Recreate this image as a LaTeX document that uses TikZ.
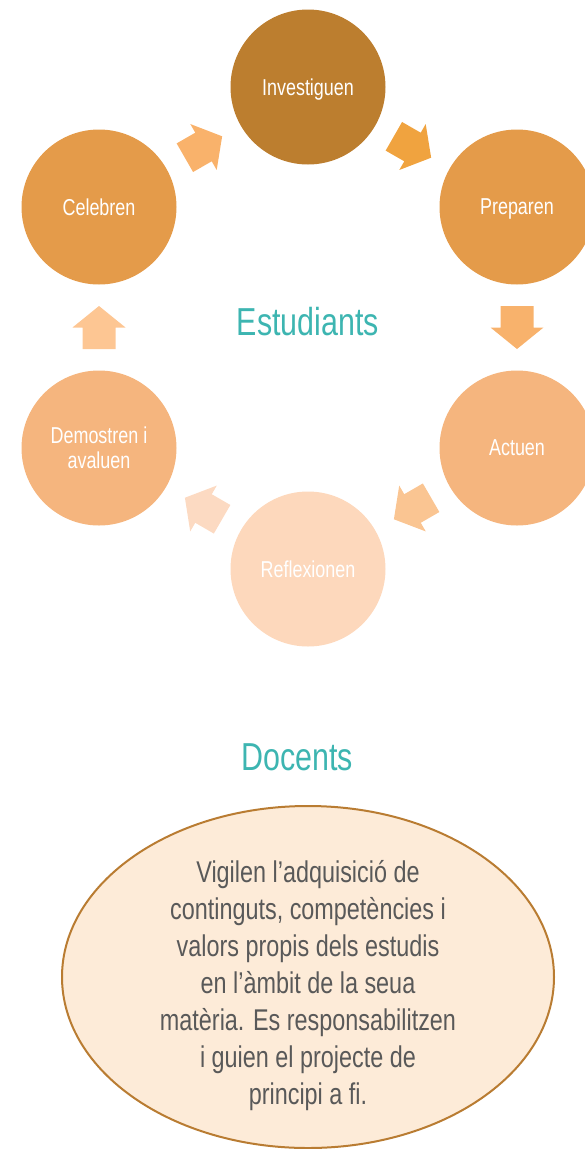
\documentclass[tikz,border=0pt]{standalone}
\usepackage{fontspec}
\setmainfont{Liberation Sans}[FakeStretch=0.78]
\usepackage{xcolor}
\usetikzlibrary{positioning, calc}

\definecolor{stepDark}{HTML}{BC7E2F}
\definecolor{stepMid}{HTML}{E49B4A}
\definecolor{stepLight}{HTML}{F5B57E}
\definecolor{stepPale}{HTML}{FDD8BC}
\definecolor{arrA}{HTML}{F9B26B}
\definecolor{arrB}{HTML}{F0A33F}
\definecolor{arrC}{HTML}{F8B26C}
\definecolor{arrD}{HTML}{FAC592}
\definecolor{arrE}{HTML}{FCDAC2}
\definecolor{arrF}{HTML}{FDC693}
\definecolor{titleTeal}{HTML}{3DB5B1}
\definecolor{noteFill}{HTML}{FDEBD8}
\definecolor{noteEdge}{HTML}{B97C32}
\definecolor{noteText}{HTML}{595959}

% block arrow half way between two circles, pointing to the second one
\newcommand{\cyclearrow}[3]{%
  \path let \p1=($(#2)-(#1)$), \n1={atan2(\y1,\x1)} in \pgfextra{\xdef\arrowangle{\n1}};
  \fill[#3, shift={($(#1)!0.5!(#2)$)}, rotate=\arrowangle]
    (-21.5,-16.5) -- (0,-16.5) -- (0,-26.5) -- (21.5,0) -- (0,26.5) -- (0,16.5) -- (-21.5,16.5) -- cycle;
}

\begin{document}
\begin{tikzpicture}[x=1pt, y=-1pt,
  stage/.style={circle, minimum size=155pt, inner sep=0pt, text=white, align=center,
    text depth=0pt, font=\fontsize{23}{25}\selectfont},
  heading/.style={text=titleTeal, font=\fontsize{39}{42}\selectfont}]
\useasboundingbox (0,0) rectangle (585,1149);
% Estudiants - cycle of six steps
\node[stage, fill=stepDark]  (inv) at (308,87)  {Investiguen};
\node[stage, fill=stepMid]   (pre) at (517,207) {Preparen};
\node[stage, fill=stepLight] (act) at (517,448) {Actuen};
\node[stage, fill=stepPale]  (ref) at (308,569) {Reflexionen};
\node[stage, fill=stepLight] (dem) at (99,448)  {Demostren i\\avaluen};
\node[stage, fill=stepMid]   (cel) at (99,207)  {Celebren};
\foreach \a/\b/\c in {cel/inv/arrA, inv/pre/arrB, pre/act/arrC, act/ref/arrD, ref/dem/arrE, dem/cel/arrF} {
    \cyclearrow{\a}{\b}{\c}
}
\node[heading] (est) at (308,322) {Estudiants};
% Docents
\node[heading] (doc) at (297,757) {Docents};
\draw[noteEdge, fill=noteFill, line width=2pt] (308,977) ellipse (246 and 171);
\node[text=noteText, align=center, font=\fontsize{30}{37}\selectfont] (tasks) at (308,986)
  {Vigilen l’adquisició de\\continguts, competències i\\valors propis dels estudis\\en l’àmbit de la seua\\matèria. Es responsabilitzen\\i guien el projecte de\\principi a fi.};
\end{tikzpicture}
\end{document}
